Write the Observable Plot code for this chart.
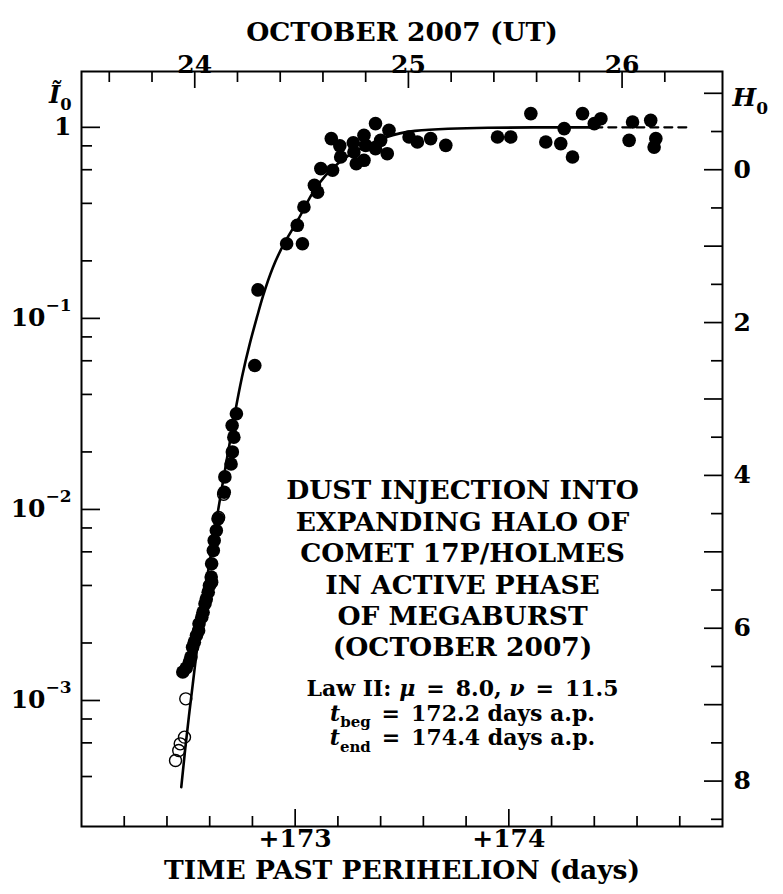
<!DOCTYPE html>
<html><head><meta charset="utf-8">
<script src="https://cdn.jsdelivr.net/npm/d3@7"></script>
<script src="https://cdn.jsdelivr.net/npm/@observablehq/plot@0.6"></script>
<style>html,body{margin:0;padding:0;background:#fff} svg{display:block}</style>
</head><body><div id="chart"></div>
<script>
// ---- data (time past perihelion in days, normalized intensity I0) ----
const filledT = [172.474,172.490,172.505,172.512,172.520,172.528,172.538,172.548,172.550,172.563,
  172.569,172.578,172.584,172.593,172.599,172.609,172.607,172.609,172.617,172.621,
  172.631,172.639,172.668,172.671,172.700,172.706,172.713,172.705,172.725,172.811,
  172.826,172.960,173.034,173.010,173.041,173.090,173.105,173.120,173.175,173.169,
  173.209,173.213,173.272,173.275,173.286,173.322,173.330,173.322,173.376,173.376,
  173.400,173.431,173.439,173.533,173.572,173.634,173.705,173.947,174.009,174.103,
  174.173,174.243,174.259,174.298,174.345,174.400,174.431,174.579,174.563,174.664,
  174.688,174.680];
const filledI = [1.41e-3,1.48e-3,1.59e-3,1.69e-3,1.90e-3,2.02e-3,2.19e-3,2.32e-3,2.52e-3,2.73e-3,
  2.90e-3,3.21e-3,3.40e-3,3.69e-3,4.00e-3,4.16e-3,4.43e-3,5.20e-3,6.10e-3,6.88e-3,
  7.76e-3,8.93e-3,1.23e-2,1.48e-2,1.73e-2,2.00e-2,2.39e-2,2.75e-2,3.17e-2,5.67e-2,
  0.141,0.246,0.246,0.307,0.383,0.497,0.458,0.608,0.596,0.873,
  0.800,0.699,0.830,0.743,0.645,0.908,0.805,0.672,1.046,0.773,
  0.855,0.728,0.965,0.890,0.838,0.873,0.805,0.890,0.890,1.18,
  0.838,0.822,0.984,0.699,1.18,1.046,1.11,1.066,0.855,1.088,
  0.873,0.788];
const openT = [172.488,172.482,172.462,172.455,172.440,172.642,172.665];
const openI = [1.02e-3,6.43e-4,5.93e-4,5.47e-4,4.85e-4,9.08e-3,1.20e-2];
// model curve (Law II), solid part up to t_end and dashed continuation
const curveT = [172.467,172.486,172.504,172.514,172.565,172.601,172.638,172.683,172.720,172.750,
  172.787,172.825,172.846,172.893,172.954,173.015,173.076,173.138,173.215,173.269,
  173.432,173.556,173.710,173.900,174.100,174.400];
const curveI = [3.52e-4,5.70e-4,8.53e-4,1.05e-3,3.16e-3,5.37e-3,9.77e-3,1.91e-2,3.30e-2,4.93e-2,
  7.40e-2,0.105,0.128,0.186,0.256,0.326,0.451,0.561,0.672,0.740,
  0.908,0.965,0.985,0.996,1.0,1.0];
const dashT = [174.4, 174.85];
const dashI = [1.0, 1.0];

// ---- axes / labels ----
const bottomMajor = [173, 174];
const dateMajor = [24, 25, 26];
const dateZeroT = 172.53;           // Oct 24.0 UT in days past perihelion (as drawn)
const leftMajor = [1, 0.1, 0.01, 0.001];
const leftLabels = ["1", "10^−1", "10^−2", "10^−3"];
const hLabels = [0, 2, 4, 6, 8];
const H0REF = 0.6;                  // I0 at H0 = 0
const titleTop = "OCTOBER 2007 (UT)";
const titleBottom = "TIME PAST PERIHELION (days)";
const noteTitle = ["DUST INJECTION INTO","EXPANDING HALO OF","COMET 17P/HOLMES","IN ACTIVE PHASE","OF MEGABURST","(OCTOBER 2007)"];
const noteLaw = ["Law II: μ = 8.0, ν = 11.5", "t_beg = 172.2 days a.p.", "t_end = 174.4 days a.p."];

// ---- layout ----
const W = 783, Ht = 894;
const mL = 81, mR = 61, mT = 71, mB = 68;
const innerW = W - mL - mR, innerH = Ht - mT - mB;
const yDomain = [2.19e-4, 1.96];
const xDomain = [172, 175];
const inY = v => v > yDomain[0] && v < yDomain[1];
const hToI = h => H0REF * Math.pow(10, -0.4 * h);

const filled = filledT.map((t, i) => ({t, I: filledI[i]}));
const open = openT.map((t, i) => ({t, I: openI[i]}));
const curve = curveT.map((t, i) => ({t, I: curveI[i]}));
const dash = dashT.map((t, i) => ({t, I: dashI[i]}));

const bottomMinor = d3.range(1, 15).filter(i => i % 5 !== 0).map(i => 172 + i * 0.2);
const topMajorT = dateMajor.map(d => dateZeroT + (d - 24));
const topMinorT = d3.range(-4, 12).filter(i => i % 5 !== 0).map(i => dateZeroT + i * 0.2).filter(t => t > 172 && t < 175);
const leftMinor = [1e-4,1e-3,1e-2,1e-1,1].flatMap(d => [2,4,6,8].map(m => m * d)).filter(inY);
const hMajor = d3.range(-1, 9).map(hToI).filter(inY);
const hMinor = d3.range(-1, 9).map(h => h + 0.5).map(hToI).filter(inY);

const font = "DejaVu Serif";
const T = {fontFamily: font, fontWeight: "bold", fill: "black"};
const tk = {stroke: "black", strokeWidth: 1.7};

const marks = [
  Plot.tickX(bottomMinor, {x: d => d, insetTop: innerH - 10, ...tk}),
  Plot.tickX(bottomMajor, {x: d => d, insetTop: innerH - 17, ...tk}),
  Plot.tickX(topMinorT, {x: d => d, insetBottom: innerH - 11, ...tk}),
  Plot.tickX(topMajorT, {x: d => d, insetBottom: innerH - 17, ...tk}),
  Plot.tickY(leftMinor, {y: d => d, insetRight: innerW - 11, ...tk}),
  Plot.tickY(leftMajor, {y: d => d, insetRight: innerW - 19, ...tk}),
  Plot.tickY(hMajor, {y: d => d, insetLeft: innerW - 18, ...tk}),
  Plot.tickY(hMinor, {y: d => d, insetLeft: innerW - 11, ...tk}),
  Plot.frame({stroke: "black", strokeWidth: 2}),
  Plot.line(curve, {x: "t", y: "I", stroke: "black", strokeWidth: 2.6, curve: "basis"}),
  Plot.line(dash, {x: "t", y: "I", stroke: "black", strokeWidth: 2.2, strokeDasharray: "8,6"}),
  Plot.dot(open, {x: "t", y: "I", r: 6, fill: "none", stroke: "black", strokeWidth: 1.4}),
  Plot.dot(filled, {x: "t", y: "I", r: 6.8, fill: "black", stroke: "none"}),
  // tick labels
  Plot.text(bottomMajor, {x: d => d, text: d => "+" + d, frameAnchor: "bottom", dy: 20, fontSize: 25, ...T}),
  Plot.text(dateMajor, {x: d => dateZeroT + (d - 24), text: d => String(d), frameAnchor: "top", dy: -16, fontSize: 25, ...T}),
  Plot.text(leftMajor, {y: d => d, text: (d, i) => leftLabels[i], frameAnchor: "left", dx: -10, textAnchor: "end", fontSize: 25, ...T}),
  Plot.text(hLabels, {y: h => hToI(h), text: h => String(h), frameAnchor: "right", dx: 11, textAnchor: "start", fontSize: 25, ...T}),
  // axis titles
  Plot.text([titleTop], {frameAnchor: "top", dy: -49, fontSize: 26.5, ...T}),
  Plot.text([titleBottom], {frameAnchor: "bottom", dy: 52, fontSize: 26.5, ...T}),
  Plot.text(["Ĩ_0"], {frameAnchor: "top-left", dx: -10, dy: 14, textAnchor: "end", fontSize: 24, ...T}),
  Plot.text(["H_0"], {frameAnchor: "top-right", dx: 10, dy: 17, textAnchor: "start", fontSize: 25, ...T}),
  // annotation
  ...noteTitle.map((s, i) => Plot.text([s], {frameAnchor: "top-left", dx: 462 - mL, dy: 480 + i * 31.4 - mT, textAnchor: "middle", fontSize: 26.5, ...T})),
  ...noteLaw.map((s, i) => Plot.text([s], {frameAnchor: "top-left", dx: 462 - mL, dy: 680 + i * 24.5 - mT, textAnchor: "middle", fontSize: 22, ...T}))
];

const chart = Plot.plot({
  width: W, height: Ht,
  marginLeft: mL, marginRight: mR, marginTop: mT, marginBottom: mB,
  x: {type: "linear", domain: xDomain, axis: null},
  y: {type: "log", domain: yDomain, axis: null},
  style: {background: "white", fontFamily: font},
  marks
});
document.getElementById("chart").appendChild(chart);

// rich text (super/subscripts, italics, math spacing)
const EQ = "\u2002=\u2002";
const rich = {
  "10^−1": [["10"], ["−1", "sup"]],
  "10^−2": [["10"], ["−2", "sup"]],
  "10^−3": [["10"], ["−3", "sup"]],
  "Ĩ_0": [["Ĩ", "i"], ["0", "sub"]],
  "H_0": [["H", "i"], ["0", "sub"]],
  "Law II: μ = 8.0, ν = 11.5": [["Law II: "], ["μ", "i"], [EQ + "8.0, "], ["ν", "i"], [EQ + "11.5"]],
  "t_beg = 172.2 days a.p.": [["t", "i"], ["beg", "sub"], [EQ + "172.2 days a.p."]],
  "t_end = 174.4 days a.p.": [["t", "i"], ["end", "sub"], [EQ + "174.4 days a.p."]]
};
d3.select(chart).selectAll("text").each(function() {
  const key = this.textContent;
  const segs = rich[key];
  if (!segs) return;
  const el = d3.select(this);
  el.text(null);
  let shift = 0;
  for (const [s, kind] of segs) {
    const ts = el.append("tspan").text(s);
    let target = 0;
    if (kind === "sup") { ts.attr("font-size", "0.68em"); target = -0.62; }
    else if (kind === "sub") { ts.attr("font-size", "0.68em"); target = 0.3; }
    else if (kind === "i") { ts.attr("font-style", "italic"); }
    const fs = (kind === "sup" || kind === "sub") ? 0.68 : 1;
    if (Math.abs(target - shift) > 1e-6) ts.attr("dy", ((target - shift) / fs).toFixed(3) + "em");
    shift = target;
  }
});
</script>
</body></html>
